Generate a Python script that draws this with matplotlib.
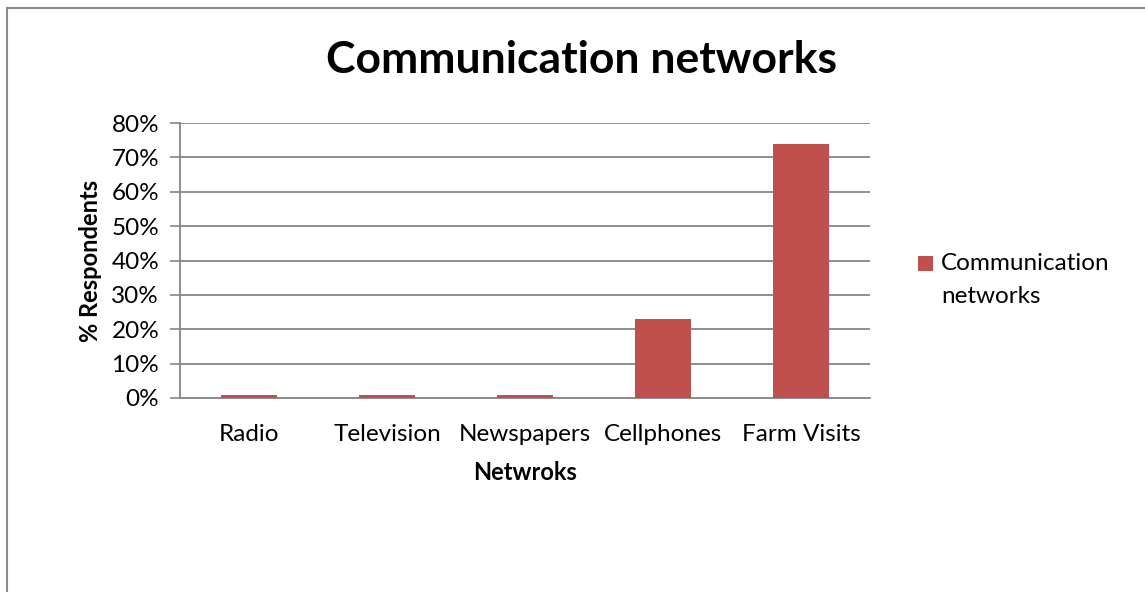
import matplotlib.pyplot as plt
from matplotlib.lines import Line2D
from matplotlib.patches import Patch, Rectangle
from matplotlib.legend_handler import HandlerPatch

plt.rcParams['font.family'] = ['Lato', 'DejaVu Sans']

networks = ['Radio', 'Television', 'Newspapers', 'Cellphones', 'Farm Visits']
respondents = [1, 1, 1, 23, 74]  # percent
y_ticks = [0, 10, 20, 30, 40, 50, 60, 70, 80]

bar_color = '#C0504D'
grid_color = '#868686'

W, H = 1145, 592
fig = plt.figure(figsize=(W / 100, H / 100), dpi=100)

# plot area in pixel coordinates
left, right, top, bottom = 180, 870, 123, 398
ax = fig.add_axes([left / W, 1 - bottom / H, (right - left) / W, (bottom - top) / H])

x = range(len(networks))
ax.bar(x, respondents, width=0.4, color=bar_color, zorder=3)

ax.set_xlim(-0.5, len(networks) - 0.5)
ax.set_ylim(0, 80)
ax.set_yticks(y_ticks)
ax.set_yticklabels([f'{v}%' for v in y_ticks], fontsize=17.5)
ax.set_xticks(list(x))
ax.set_xticklabels(networks, fontsize=17.5)
ax.tick_params(axis='x', length=0, pad=19)
ax.tick_params(axis='y', length=7, width=1.2, color=grid_color, pad=8)

ax.grid(axis='y', color=grid_color, linewidth=1.3, zorder=0)
for s in ['top', 'right']:
    ax.spines[s].set_visible(False)
for s in ['left', 'bottom']:
    ax.spines[s].set_color(grid_color)
    ax.spines[s].set_linewidth(1.3)

ax.set_xlabel('Netwroks', fontsize=17, fontweight='bold', labelpad=11)
ax.set_ylabel('% Respondents', fontsize=17, fontweight='bold', labelpad=7)

fig.text(582 / W, 1 - 60 / H, 'Communication networks',
         ha='center', va='center', fontsize=32, fontweight='bold')


# square legend key, lifted so it sits next to the first text line
def top_square(legend, orig_handle, xdescent, ydescent, width, height, fontsize):
    side = width
    return Rectangle((-xdescent, -ydescent + 12), side, side)


handle = Patch(facecolor=bar_color, edgecolor='none')
leg = fig.legend([handle], ['Communication\nnetworks'], loc='center left',
                 bbox_to_anchor=(896 / W, 1 - 280 / H), frameon=False,
                 fontsize=17.5, handlelength=0.62, handleheight=0.62,
                 handletextpad=0.33,
                 handler_map={Patch: HandlerPatch(patch_func=top_square)})
for t in leg.get_texts():
    t.set_linespacing(1.7)

# outer chart border (top and left edges)
fig.add_artist(Line2D([7 / W, 1], [1 - 8 / H, 1 - 8 / H], color='#8c8c8c', linewidth=1.5))
fig.add_artist(Line2D([7 / W, 7 / W], [0, 1 - 8 / H], color='#8c8c8c', linewidth=1.5))

fig.savefig('out.png', dpi=100)
